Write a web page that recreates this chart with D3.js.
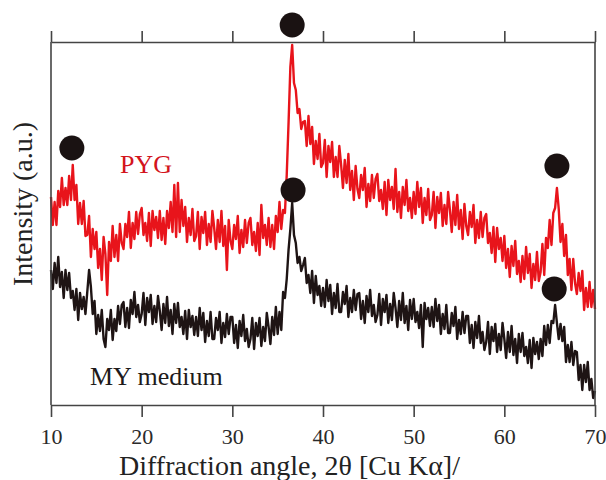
<!DOCTYPE html>
<html>
<head>
<meta charset="utf-8">
<script src="https://cdn.jsdelivr.net/npm/d3@7"></script>
<style>
body { margin: 0; background: #fff; }
text { font-family: "Liberation Serif", "DejaVu Serif", serif; }
</style>
</head>
<body>
<script>
/**
 * XRD patterns of the PYG and MY medium samples
 * (intensity in arbitrary units, one sample every 0.2 deg from 10 deg)
*/
var angleStart = 10;
var angleStep = 0.2;
var xTicks = [10, 20, 30, 40, 50, 60, 70];

var pygValues = [
	208,180,203,180,214,198,227,200,217,200,
	229,205,240,205,220,181,202,181,204,169,
	170,189,148,176,156,173,137,156,125,168,
	151,110,163,144,179,148,170,144,181,162,
	156,181,168,193,157,182,166,193,171,191,
	197,170,182,164,192,159,194,175,188,167,
	194,165,187,161,194,177,203,173,220,168,
	222,173,205,179,198,163,187,170,196,164,
	169,193,156,188,172,193,160,181,163,194,
	177,156,185,163,194,159,179,135,185,164,
	156,180,166,189,152,175,158,185,162,182,
	187,160,173,154,182,150,200,167,180,160,
	187,158,180,156,189,173,203,176,195,192,
	230,282,338,360,322,315,292,296,276,283,
	284,259,289,261,278,241,264,246,271,238,
	242,265,228,259,243,263,228,248,228,259,
	240,217,245,222,251,215,234,205,239,216,
	207,230,215,237,198,221,204,230,207,226,
	231,204,215,196,223,190,225,205,218,196,
	236,193,213,187,218,200,225,194,207,187,
	213,191,223,198,217,182,207,190,216,185,
	190,213,177,208,192,212,179,200,181,213,
	195,173,203,180,210,176,195,166,201,179,
	170,193,178,200,162,185,167,193,168,187,
	191,162,172,152,178,143,177,156,167,144,
	169,137,156,128,159,139,164,131,144,123,
	149,126,158,132,151,117,141,125,153,124,
	133,161,130,167,157,185,160,192,197,217,
	196,163,181,149,170,130,146,115,146,122,
	111,132,114,134,95,117,98,123,98,115,
	96
];

var myValues = [
	135,116,142,122,148,118,133,107,135,115,
	132,107,114,95,116,85,112,96,108,91,
	113,135,118,91,104,71,90,74,95,66,
	58,86,75,95,65,86,74,99,81,100,
	103,78,97,77,105,91,113,88,100,83,
	91,112,80,107,93,110,81,99,83,109,
	94,75,101,82,108,79,95,71,101,82,
	102,78,88,71,94,66,95,78,89,70,
	88,69,97,75,92,63,84,69,93,66,
	66,87,75,93,62,82,68,91,71,88,
	88,62,80,57,84,69,90,64,76,58,
	66,87,56,82,69,87,59,78,64,92,
	78,61,88,70,98,71,93,75,113,107,
	126,155,176,202,170,162,142,148,134,140,
	147,122,130,112,134,102,129,110,119,99,
	117,98,125,104,120,91,112,97,121,93,
	93,113,101,119,88,107,93,115,95,111,
	112,86,104,82,109,93,115,89,100,83,
	90,111,80,106,93,110,82,101,85,112,
	97,78,104,85,112,82,99,75,105,86,
	106,83,93,77,100,58,102,86,97,79,
	98,78,106,84,100,71,91,76,100,72,
	72,92,79,98,66,85,71,93,72,89,
	89,62,80,57,83,67,89,62,73,55,
	63,83,51,78,64,81,53,71,55,82,
	66,47,73,53,79,50,66,42,71,53,
	72,49,58,42,65,37,67,51,63,46,
	66,49,79,60,80,62,84,82,100,82,
	66,81,64,78,43,60,43,63,40,54,
	53,25,40,15,40,23,43,15,26,7,
	14
];

// filled circles marking the indexed reflections
var peakAngles = [12.3, 36.6, 36.7, 65.8, 65.5];
var peakLevels = [257, 380, 215, 239, 116];

var width = 606, height = 480;
var margin = {top: 42, right: 11, bottom: 75, left: 51};

var svg = d3.select("body").append("svg")
			.attr("width", width)
			.attr("height", height);

var x = d3.scaleLinear()
		.domain([10, 70])
		.range([margin.left, width - margin.right]);

var y = d3.scaleLinear()
		.domain([0, 363])
		.range([height - margin.bottom, margin.top]);

var line = d3.line()
		.x(function(d, i){ return x(angleStart + i * angleStep); })
		.y(function(d){ return y(d); });

// thick strokes so the noisy scan reads as a dense band like the original
svg.append("path")
	.datum(pygValues)
	.attr("fill", "none")
	.attr("stroke", "#e8141b")
	.attr("stroke-width", 2.4)
	.attr("stroke-linejoin", "round")
	.attr("d", line);

svg.append("path")
	.datum(myValues)
	.attr("fill", "none")
	.attr("stroke", "#1e1414")
	.attr("stroke-width", 2.4)
	.attr("stroke-linejoin", "round")
	.attr("d", line);

// frame: ticks outside on top and bottom, plain sides
var bottomAxis = svg.append("g")
	.attr("class", "axis")
	.attr("transform", "translate(0," + y.range()[0] + ")")
	.call(d3.axisBottom(x).tickValues(xTicks).tickSize(12).tickSizeOuter(0).tickPadding(11));

var topAxis = svg.append("g")
	.attr("class", "axis")
	.attr("transform", "translate(0," + y.range()[1] + ")")
	.call(d3.axisTop(x).tickValues(xTicks).tickSize(11).tickSizeOuter(0).tickFormat(""));

svg.selectAll(".axis path, .axis line")
	.attr("stroke", "#444")
	.attr("stroke-width", 1.6);

bottomAxis.selectAll("text")
	.attr("fill", "#2a2a2a")
	.style("font-size", "22px");

svg.append("line")
	.attr("x1", x(10)).attr("x2", x(10))
	.attr("y1", y.range()[0]).attr("y2", y.range()[1])
	.attr("stroke", "#444").attr("stroke-width", 1.6);

svg.append("line")
	.attr("x1", x(70)).attr("x2", x(70))
	.attr("y1", y.range()[0]).attr("y2", y.range()[1])
	.attr("stroke", "#444").attr("stroke-width", 1.6);

svg.selectAll("circle.peak")
	.data(peakAngles)
	.enter()
	.append("circle")
	.attr("class", "peak")
	.attr("cx", function(d){ return x(d); })
	.attr("cy", function(d, i){ return y(peakLevels[i]); })
	.attr("r", 12.5)
	.attr("fill", "#1a1212");

svg.append("text")
	.text("PYG")
	.attr("x", 120)
	.attr("y", 173)
	.attr("fill", "#d3141c")
	.style("font-size", "26px");

svg.append("text")
	.text("MY medium")
	.attr("x", 90)
	.attr("y", 385)
	.attr("fill", "#1e1a1a")
	.style("font-size", "26px");

svg.append("text")
	.text("Diffraction angle, 2θ [Cu Kα]/")
	.attr("x", 119)
	.attr("y", 475)
	.attr("fill", "#222")
	.style("font-size", "28px");

svg.append("text")
	.text("Intensity (a.u.)")
	.attr("text-anchor", "middle")
	.attr("transform", "translate(32,204) rotate(-90)")
	.attr("fill", "#222")
	.style("font-size", "28px");
</script>
</body>
</html>
